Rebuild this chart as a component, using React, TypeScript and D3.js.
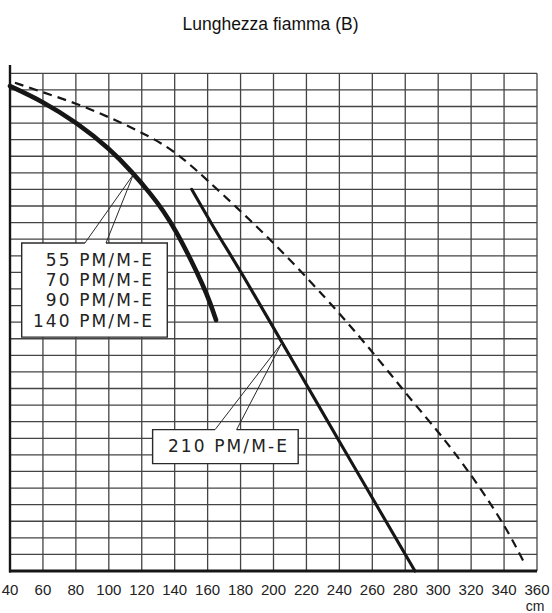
import React from "react";
import * as d3 from "d3";

// Flame length chart: burner output (rows, unlabelled) vs flame length in cm
const titleText = "Lunghezza fiamma (B)";
const unitLabel = "cm";
const xTicks = [40, 60, 80, 100, 120, 140, 160, 180, 200, 220, 240, 260, 280, 300, 320, 340, 360];
const rowCount = 30;

// Small burners: 55 / 70 / 90 / 140 PM/M-E
const smallX = [40, 60, 80.5, 100.7, 114.7, 125, 133.1, 141.2, 149.3, 157.4, 161.4, 165.1];
const smallY = [29.23, 28.3, 27.03, 25.44, 23.99, 22.78, 21.73, 20.43, 18.87, 17.18, 16.21, 15.13];

// 210 PM/M-E
const bigX = [150.3, 163.4, 182.7, 216.1, 242.4, 285.9];
const bigY = [23.01, 20.77, 17.6, 11.9, 7.4, 0];

// Dashed limit curve
const limitX = [43, 60.2, 80.5, 100.7, 118.9, 135.1, 147.3, 159.4, 177.7, 195.9, 214.1, 232.3, 244.4, 256.6, 270.7, 284.9, 300.1, 309.2, 321.3, 333.5, 343.6, 351.7];
const limitY = [29.43, 28.85, 28.18, 27.33, 26.49, 25.62, 24.68, 23.6, 21.91, 20.18, 18.34, 16.38, 15.02, 13.61, 11.91, 10.16, 8.38, 7.23, 5.61, 3.8, 2.17, 0.6];

const smallLabels = ["55 PM/M-E", "70 PM/M-E", "90 PM/M-E", "140 PM/M-E"];
const bigLabels = ["210 PM/M-E"];

const W = 552;
const H = 613;

export default function App() {
  const x = d3.scaleLinear().domain([40, 360]).range([10, 537]);
  const y = d3.scaleLinear().domain([0, rowCount]).range([571, 73.3]);

  const smoothLine = d3
    .line<[number, number]>()
    .x((d) => x(d[0]))
    .y((d) => y(d[1]))
    .curve(d3.curveBasis);

  const straightLine = d3
    .line<[number, number]>()
    .x((d) => x(d[0]))
    .y((d) => y(d[1]))
    .curve(d3.curveCatmullRom.alpha(0.5));

  const zip = (a: number[], b: number[]) => a.map((v, i) => [v, b[i]] as [number, number]);

  const rows = d3.range(0, rowCount + 1);
  const gridColor = "#444";
  const ink = "#161616";

  // Callout boxes expressed in chart units
  const box1 = { x0: 47.1, x1: 135.5, yTop: 19.77, yBot: 14.1, baseA: 85.5, baseB: 98.3, tipX: 114.9, tipY: 23.9 };
  const box2 = { x0: 126.6, x1: 215.0, yTop: 8.52, yBot: 6.47, baseA: 164.5, baseB: 177.6, tipX: 205, tipY: 13.74 };

  const callout = (b: typeof box1, labels: string[], textRight: number, firstBaseline: number, key: string) => {
    const L = x(b.x0), R = x(b.x1), T = y(b.yTop), B = y(b.yBot);
    const a = x(b.baseA), c = x(b.baseB);
    const tx = x(b.tipX), ty = y(b.tipY);
    return (
      <g key={key}>
        <rect x={L} y={T} width={R - L} height={B - T} fill="#fff" stroke="none" />
        <path
          d={`M${a},${T} L${L},${T} L${L},${B} L${R},${B} L${R},${T} L${c},${T}`}
          fill="none"
          stroke="#2a2a2a"
          strokeWidth={1.4}
        />
        <path d={`M${a},${T} L${tx},${ty} L${c},${T}`} fill="none" stroke="#2a2a2a" strokeWidth={1} />
        {labels.map((t, i) => (
          <text
            key={t}
            x={textRight}
            y={firstBaseline + i * 20.2}
            textAnchor="end"
            fontFamily="DejaVu Sans, sans-serif"
            fontSize={17}
            letterSpacing={2.1}
            fill="#222"
          >
            {t}
          </text>
        ))}
      </g>
    );
  };

  return (
    <svg
      width={W}
      height={H}
      style={{ position: "absolute", left: 0, top: 0, background: "#fff" }}
    >
      <rect width={W} height={H} fill="#fff" />
      <text
        x={270.5}
        y={30}
        textAnchor="middle"
        fontFamily="Liberation Sans, sans-serif"
        fontSize={17.5}
        fill="#111"
      >
        {titleText}
      </text>

      {/* grid */}
      <g stroke={gridColor} strokeWidth={1.3}>
        {xTicks.map((t) => (
          <line key={"v" + t} x1={x(t)} x2={x(t)} y1={y(rowCount)} y2={y(0)} />
        ))}
        {rows.map((r) => (
          <line key={"h" + r} x1={x(40)} x2={x(360)} y1={y(r)} y2={y(r)} />
        ))}
      </g>

      {/* axes */}
      <line x1={x(40)} x2={x(40)} y1={65} y2={y(0) + 1.5} stroke={ink} strokeWidth={2.4} />
      <line x1={x(40) - 1} x2={x(360)} y1={y(0)} y2={y(0)} stroke={ink} strokeWidth={3} />

      {/* curves */}
      <path
        d={smoothLine(zip(limitX, limitY)) || ""}
        fill="none"
        stroke={ink}
        strokeWidth={2.2}
        strokeDasharray="9 6"
      />
      <path
        d={straightLine(zip(bigX, bigY)) || ""}
        fill="none"
        stroke={ink}
        strokeWidth={3.1}
        strokeLinecap="round"
      />
      <path
        d={smoothLine(zip(smallX, smallY)) || ""}
        fill="none"
        stroke={ink}
        strokeWidth={4.6}
        strokeLinecap="round"
      />

      {callout(box1, smallLabels, 154, 266, "c1")}
      {callout(box2, bigLabels, 289, 451.7, "c2")}

      {/* x tick labels */}
      {xTicks.map((t) => (
        <text
          key={"t" + t}
          x={x(t)}
          y={595}
          textAnchor="middle"
          fontFamily="Liberation Sans, sans-serif"
          fontSize={15}
          fill="#222"
        >
          {t}
        </text>
      ))}
      <text
        x={535}
        y={611}
        textAnchor="middle"
        fontFamily="Liberation Sans, sans-serif"
        fontSize={14}
        fill="#222"
      >
        {unitLabel}
      </text>
    </svg>
  );
}
